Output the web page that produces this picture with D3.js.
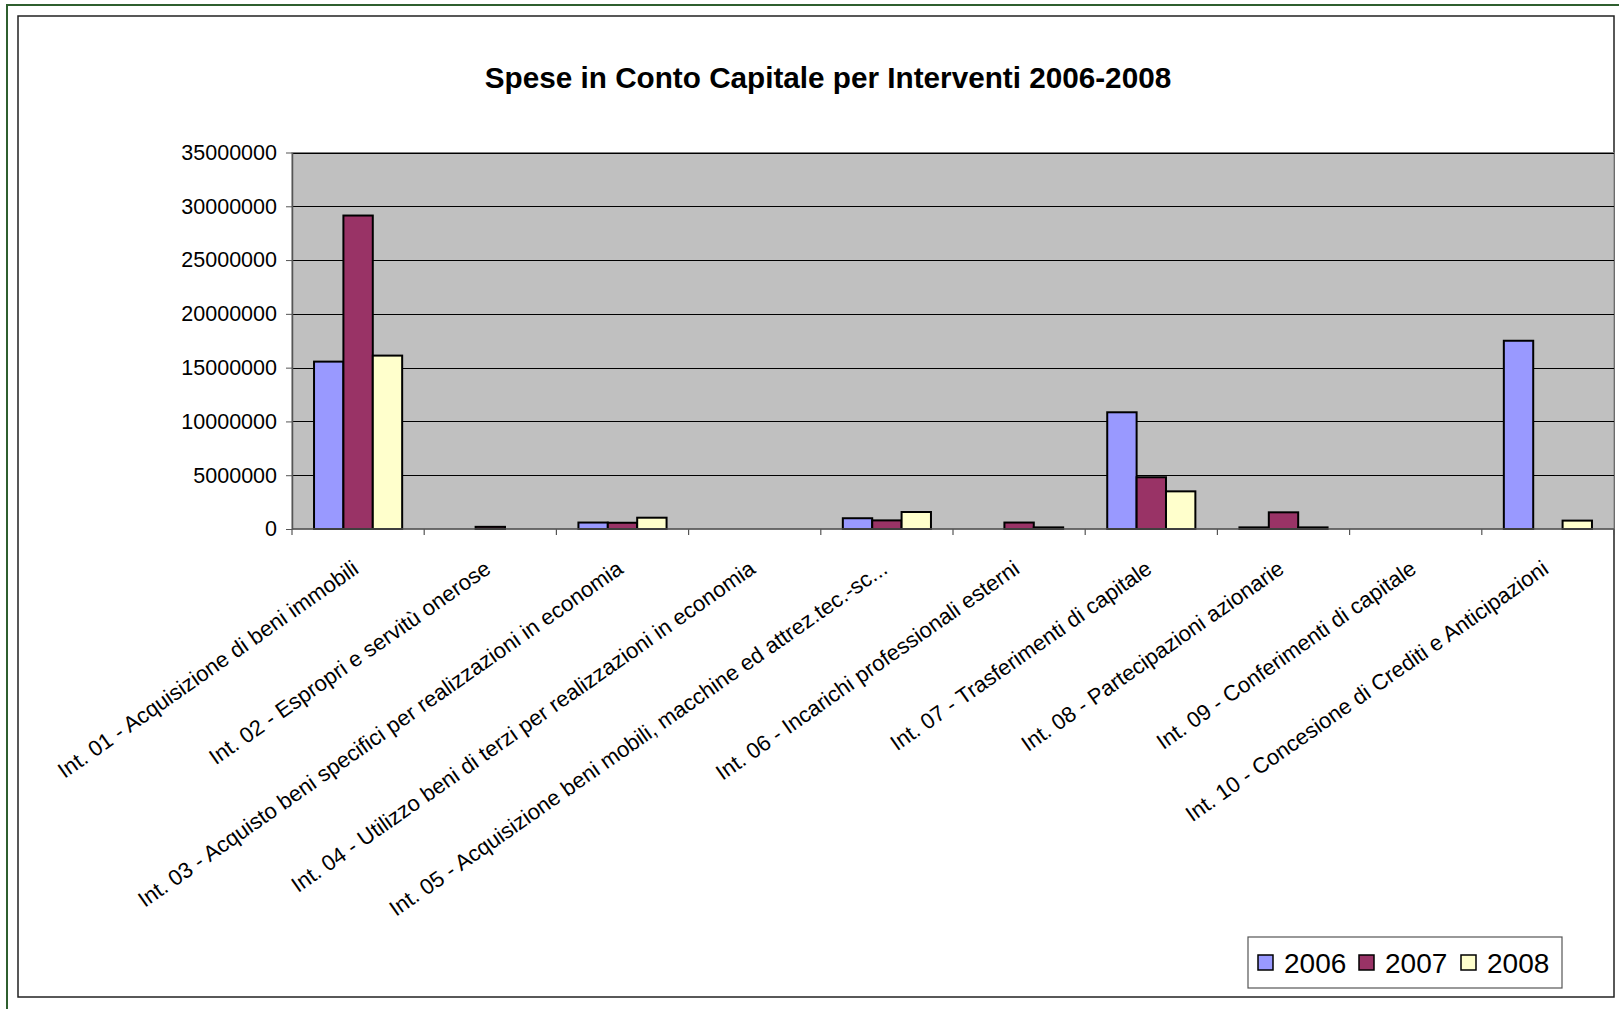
<!DOCTYPE html>
<html>
<head>
<meta charset="utf-8">
<script src="https://cdn.jsdelivr.net/npm/d3@7"></script>
<style>
  html, body { margin: 0; padding: 0; background: #fff; }
  svg { display: block; font-family: "Liberation Sans", Arial, sans-serif; }
</style>
</head>
<body>
<svg id="chart" width="1619" height="1009"></svg>
<script>
const title = "Spese in Conto Capitale per Interventi 2006-2008";
const categories = [
  "Int. 01 - Acquisizione di beni immobili",
  "Int. 02 - Espropri e servitù onerose",
  "Int. 03 - Acquisto beni specifici per realizzazioni in economia",
  "Int. 04 - Utilizzo beni di terzi per realizzazioni in economia",
  "Int. 05 - Acquisizione beni mobili, macchine ed attrez.tec.-sc...",
  "Int. 06 - Incarichi professionali esterni",
  "Int. 07 - Trasferimenti di capitale",
  "Int. 08 - Partecipazioni azionarie",
  "Int. 09 - Conferimenti di capitale",
  "Int. 10 - Concesione di Crediti e Anticipazioni"
];
const years = ["2006", "2007", "2008"];
const values2006 = [15560000, 0, 600000, 0, 1000000, 0, 10850000, 150000, 0, 17500000];
const values2007 = [29140000, 200000, 580000, 0, 800000, 600000, 4810000, 1550000, 0, 0];
const values2008 = [16120000, 0, 1050000, 0, 1580000, 150000, 3500000, 150000, 0, 780000];
const yTicks = [0, 5000000, 10000000, 15000000, 20000000, 25000000, 30000000, 35000000];
const colors = ["#9999FF", "#993366", "#FFFFCC"];

const seriesValues = [values2006, values2007, values2008];
const data = categories.map((c, i) => ({
  cat: c,
  vals: years.map((y, j) => ({ year: y, value: seriesValues[j][i], color: colors[j] }))
}));

const svg = d3.select("#chart");

// outer frames
svg.append("rect").attr("x", 7).attr("y", 5).attr("width", 1640).attr("height", 1030)
  .attr("fill", "none").attr("stroke", "#2f5f2f").attr("stroke-width", 2);
svg.append("rect").attr("x", 18).attr("y", 16).attr("width", 1596).attr("height", 981)
  .attr("fill", "#fff").attr("stroke", "#222").attr("stroke-width", 1.5);

const plot = { left: 292, right: 1614, top: 152.5, bottom: 529 };

const x0 = d3.scaleBand().domain(categories).range([plot.left, plot.right]).paddingInner(0).paddingOuter(0);
const bw = x0.bandwidth();
const x1 = d3.scaleBand().domain(years).range([bw / 6, bw * 5 / 6]).padding(0);
const y = d3.scaleLinear().domain([0, 35000000]).range([plot.bottom, plot.top]);

// plot area
svg.append("rect").attr("x", plot.left).attr("y", plot.top)
  .attr("width", plot.right - plot.left).attr("height", plot.bottom - plot.top)
  .attr("fill", "#C0C0C0").attr("stroke", "#808080").attr("stroke-width", 1);

// gridlines
svg.append("g").selectAll("line").data(yTicks.filter(t => t > 0)).join("line")
  .attr("x1", plot.left).attr("x2", plot.right)
  .attr("y1", d => Math.round(y(d)) + 0.5).attr("y2", d => Math.round(y(d)) + 0.5)
  .attr("stroke", "#000").attr("stroke-width", 1);

// bars
const groups = svg.append("g").selectAll("g").data(data).join("g")
  .attr("transform", d => `translate(${x0(d.cat)},0)`);
groups.selectAll("rect").data(d => d.vals.filter(v => v.value > 0)).join("rect")
  .attr("x", d => x1(d.year))
  .attr("y", d => y(d.value))
  .attr("width", x1.bandwidth())
  .attr("height", d => plot.bottom - y(d.value))
  .attr("fill", d => d.color)
  .attr("stroke", "#000").attr("stroke-width", 2);

// y axis
const yAxis = d3.axisLeft(y).tickValues(yTicks).tickFormat(d3.format("d")).tickSizeOuter(0).tickSizeInner(6).tickPadding(9);
const yg = svg.append("g").attr("transform", `translate(${plot.left},0)`).call(yAxis);
yg.select(".domain").attr("stroke", "#555").attr("stroke-width", 1.5);
yg.selectAll(".tick line").attr("stroke", "#555");
yg.selectAll(".tick text").attr("font-size", 21.5).attr("fill", "#000")
  .attr("font-family", "'Liberation Sans', Arial, sans-serif");

// x axis line
svg.append("line").attr("x1", plot.left).attr("x2", plot.right)
  .attr("y1", plot.bottom).attr("y2", plot.bottom)
  .attr("stroke", "#555").attr("stroke-width", 1.5);
// boundary ticks
const boundaries = categories.map(c => x0(c)).concat([plot.right]);
svg.append("g").selectAll("line").data(boundaries).join("line")
  .attr("x1", d => d).attr("x2", d => d)
  .attr("y1", plot.bottom).attr("y2", plot.bottom + 6)
  .attr("stroke", "#555").attr("stroke-width", 1.2);

// category labels
svg.append("g").selectAll("text").data(categories).join("text")
  .attr("transform", d => `translate(${x0(d) + bw / 2 + 2},${572}) rotate(-35)`)
  .attr("text-anchor", "end")
  .attr("font-size", 22)
  .attr("fill", "#000")
  .text(d => d);

// title
svg.append("text").attr("x", 828).attr("y", 88).attr("text-anchor", "middle")
  .attr("font-size", 29.7).attr("font-weight", "bold").attr("fill", "#000")
  .text(title);

// legend
const legend = svg.append("g");
legend.append("rect").attr("x", 1248).attr("y", 937).attr("width", 314).attr("height", 51)
  .attr("fill", "#fff").attr("stroke", "#555").attr("stroke-width", 1.2);
const legX = [1258, 1359, 1461];
const items = legend.selectAll("g.item").data(years).join("g").attr("class", "item")
  .attr("transform", (d, i) => `translate(${legX[i]},955)`);
items.append("rect").attr("width", 15).attr("height", 15)
  .attr("fill", (d, i) => colors[i]).attr("stroke", "#000").attr("stroke-width", 1.5);
items.append("text").attr("x", 26).attr("y", 18).attr("font-size", 28).attr("fill", "#000").text(d => d);
</script>
</body>
</html>
